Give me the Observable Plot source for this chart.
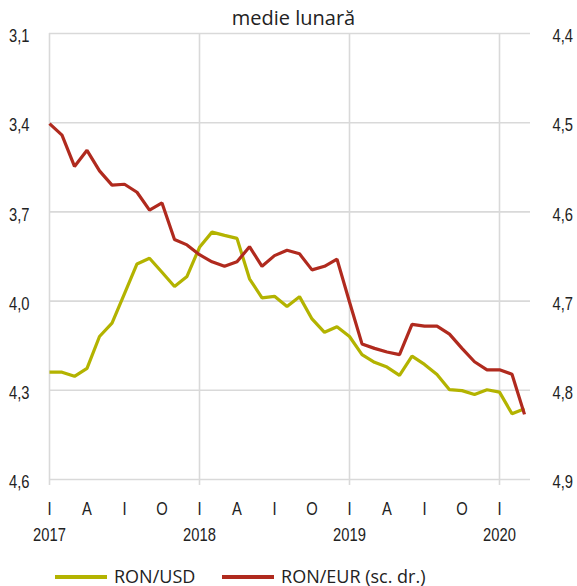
<!DOCTYPE html>
<html>
<head>
<meta charset="utf-8">
<script src="https://cdn.jsdelivr.net/npm/d3@7"></script>
<script src="https://cdn.jsdelivr.net/npm/@observablehq/plot@0.6"></script>
<style>
  html, body { margin: 0; padding: 0; background: #fff; }
  #wrap { position: relative; width: 577px; height: 586px; overflow: hidden; }
  #title { position: absolute; left: 0; width: 577px; top: 4px; text-align: center;
    font-family: "Open Sans", sans-serif; font-size: 20px; color: #222; margin-left: 5px; }
  #legend { position: absolute; top: 564px; left: 55px; font-family: "Open Sans", sans-serif;
    font-size: 18px; color: #222; white-space: nowrap; }
  .sw { display: inline-block; width: 52px; height: 4px; vertical-align: middle; margin-right: 7px; position: relative; top: -1px; }
  .item { display: inline-block; }
</style>
</head>
<body>
<div id="wrap">
  <div id="title">medie lunară</div>
  <div id="chart"></div>
  <div id="legend">
    <span class="item"><span class="sw" style="background:#b3b300"></span>RON/USD</span>
    <span class="item" style="margin-left:22px"><span class="sw" style="background:#b02a1e"></span>RON/EUR (sc. dr.)</span>
  </div>
</div>
<script>
// months from Jan 2017 to Mar 2020
const months = d3.range(39);
const ronUsd = [4.239, 4.239, 4.253, 4.226, 4.119, 4.074, 3.975, 3.875, 3.856, 3.903, 3.951, 3.917,
  3.819, 3.768, 3.779, 3.789, 3.925, 3.989, 3.984, 4.018, 3.985, 4.060, 4.105, 4.086,
  4.119, 4.180, 4.206, 4.222, 4.250, 4.185, 4.213, 4.247, 4.298, 4.301, 4.314, 4.298,
  4.306, 4.379, 4.362];
const ronEur = [4.501, 4.514, 4.549, 4.531, 4.554, 4.570, 4.569, 4.578, 4.598, 4.590, 4.631, 4.637,
  4.648, 4.656, 4.661, 4.656, 4.639, 4.661, 4.649, 4.643, 4.647, 4.665, 4.661, 4.653,
  4.701, 4.748, 4.753, 4.757, 4.760, 4.726, 4.728, 4.728, 4.737, 4.753, 4.768, 4.777,
  4.777, 4.782, 4.827];
const leftTicks = [3.1, 3.4, 3.7, 4.0, 4.3, 4.6];
const rightTicks = [4.4, 4.5, 4.6, 4.7, 4.8, 4.9];
const quarterLabels = ["I", "A", "I", "O"];
const years = ["2017", "2018", "2019", "2020"];

const toLeft = v => 3.1 + (v - 4.4) * 3;
const fmt = d => d.toFixed(1).replace(".", ",");
const usd = months.map((m, i) => ({m, v: ronUsd[i]}));
const eur = months.map((m, i) => ({m, v: toLeft(ronEur[i])}));
const quarterTicks = d3.range(0, 39, 3);
const yearTicks = [0, 12, 24, 36];

const chart = Plot.plot({
  width: 577,
  height: 586,
  marginTop: 33,
  marginBottom: 107,
  marginLeft: 49,
  marginRight: 47,
  style: { fontFamily: "sans-serif", fontSize: "18px", color: "#222", background: "white" },
  x: { domain: [0, 38.48] },
  y: { domain: [3.1, 4.6], reverse: true },
  marks: [
    Plot.ruleY(leftTicks, { stroke: "#d9d9d9", strokeWidth: 1.6 }),
    Plot.ruleX(yearTicks, { y1: 3.1, y2: 4.6, insetBottom: -6, stroke: "#d9d9d9", strokeWidth: 1.6 }),
    Plot.axisY(leftTicks, { anchor: "left", tickSize: 0, tickPadding: 20, dy: 3, tickFormat: fmt, label: null }),
    Plot.axisY(leftTicks, { anchor: "right", tickSize: 0, tickPadding: 22, dy: 3, tickFormat: (d, i) => fmt(rightTicks[i]), label: null, textAnchor: "start" }),
    Plot.axisX(quarterTicks, { anchor: "bottom", tickSize: 0, tickPadding: 23, tickFormat: (d, i) => quarterLabels[i % 4], label: null }),
    Plot.axisX(yearTicks, { anchor: "bottom", tickSize: 0, tickPadding: 49, tickFormat: (d, i) => years[i], label: null }),
    Plot.line(usd, { x: "m", y: "v", stroke: "#b3b300", strokeWidth: 3.2, strokeLinejoin: "miter", strokeLinecap: "butt" }),
    Plot.line(eur, { x: "m", y: "v", stroke: "#b02a1e", strokeWidth: 3.2, strokeLinejoin: "miter", strokeLinecap: "butt" })
  ]
});
document.getElementById("chart").appendChild(chart);
// condense tick label glyphs (the original uses a narrow typeface)
d3.select(chart).selectAll('g[aria-label$="tick label"] text').each(function () {
  const t = this.getAttribute("transform") || "";
  this.setAttribute("transform", t + " scale(0.82,1)");
});
</script>
</body>
</html>
